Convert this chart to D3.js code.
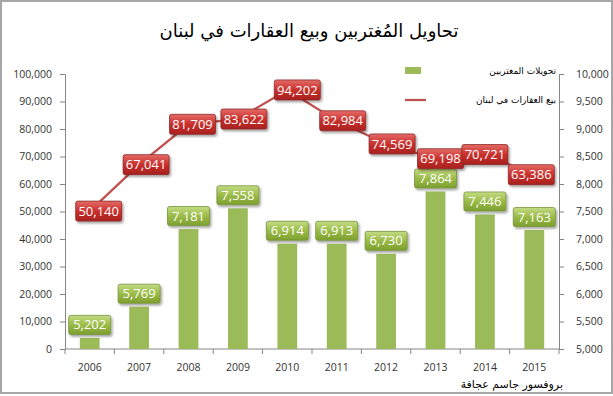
<!DOCTYPE html>
<html>
<head>
<meta charset="utf-8">
<script src="https://cdn.jsdelivr.net/npm/d3@7"></script>
<style>
  body { margin: 0; background: #fff; }
  svg { display: block; }
</style>
</head>
<body>
<div id="chart"></div>
<script>
// Chart data
const years = ["2006", "2007", "2008", "2009", "2010", "2011", "2012", "2013", "2014", "2015"];
const remittances = [5202, 5769, 7181, 7558, 6914, 6913, 6730, 7864, 7446, 7163];
const propertySales = [50140, 67041, 81709, 83622, 94202, 82984, 74569, 69198, 70721, 63386];
const leftTicks = [0, 10000, 20000, 30000, 40000, 50000, 60000, 70000, 80000, 90000, 100000];
const rightTicks = [5000, 5500, 6000, 6500, 7000, 7500, 8000, 8500, 9000, 9500, 10000];

const titleText = "تحاويل المُغتربين وبيع العقارات في لبنان";
const barName = "تحويلات المغتربين";
const lineName = "بيع العقارات في لبنان";
const creditText = "بروفسور جاسم عجافة";

// horizontal nudge of the red labels (px), as placed in the original
const redNudge = [9, 7, 4, 6, 10, 6, 6, 5, 0, -3];

const width = 613, height = 396;
const plot = { left: 65, right: 559, top: 74, bottom: 349 };
const fmt = d3.format(",");

const svg = d3.select('#chart')
    .append('svg')
    .attr('width', width)
    .attr('height', height);

// Gradients and shadow
const defs = svg.append('defs');
const redGrad = defs.append('linearGradient').attr('id', 'redGrad').attr('x1', 0).attr('y1', 0).attr('x2', 0).attr('y2', 1);
redGrad.append('stop').attr('offset', '0%').attr('stop-color', '#e46b68');
redGrad.append('stop').attr('offset', '50%').attr('stop-color', '#c9302c');
redGrad.append('stop').attr('offset', '100%').attr('stop-color', '#a8211e');
const greenGrad = defs.append('linearGradient').attr('id', 'greenGrad').attr('x1', 0).attr('y1', 0).attr('x2', 0).attr('y2', 1);
greenGrad.append('stop').attr('offset', '0%').attr('stop-color', '#c3dc84');
greenGrad.append('stop').attr('offset', '50%').attr('stop-color', '#9bbb48');
greenGrad.append('stop').attr('offset', '100%').attr('stop-color', '#7d9f2e');
defs.append('filter').attr('id', 'shadow').attr('x', '-20%').attr('y', '-20%').attr('width', '150%').attr('height', '160%')
    .append('feDropShadow').attr('dx', 1.5).attr('dy', 2).attr('stdDeviation', 1.2)
    .attr('flood-color', '#000').attr('flood-opacity', 0.35);

// Outer frame
svg.append('rect')
    .attr('x', 1).attr('y', 1)
    .attr('width', 611).attr('height', 392)
    .attr('fill', '#fff')
    .attr('stroke', '#a6a6a6')
    .attr('stroke-width', 2);

// Scales
const x = d3.scaleBand().domain(years).range([plot.left, plot.right]).paddingInner(0.6).paddingOuter(0.3);
const xPoint = d => x(d) + x.bandwidth() / 2;
const yLeft = d3.scaleLinear().domain([0, 100000]).range([plot.bottom, plot.top]);
const yRight = d3.scaleLinear().domain([5000, 10000]).range([plot.bottom, plot.top]);

// Title
svg.append('text')
    .attr('x', 309).attr('y', 37)
    .attr('text-anchor', 'middle')
    .attr('font-family', 'DejaVu Sans')
    .attr('font-size', 18)
    .attr('fill', '#000')
    .text(titleText);

// Axes
const axisColor = '#868686';
const leftAxis = svg.append('g')
    .attr('transform', `translate(${plot.left},0)`)
    .call(d3.axisLeft(yLeft).tickValues(leftTicks).tickFormat(fmt).tickSize(5).tickPadding(8));
const rightAxis = svg.append('g')
    .attr('transform', `translate(${plot.right},0)`)
    .call(d3.axisRight(yRight).tickValues(rightTicks).tickFormat(fmt).tickSize(5).tickPadding(12));
[leftAxis, rightAxis].forEach(g => {
    g.select('.domain').attr('stroke', axisColor);
    g.selectAll('.tick line').attr('stroke', axisColor);
    g.selectAll('.tick text')
        .attr('font-family', 'Open Sans')
        .attr('font-size', 10.5)
        .attr('fill', '#333');
});

// Category axis
svg.append('line')
    .attr('x1', plot.left).attr('x2', plot.right)
    .attr('y1', plot.bottom).attr('y2', plot.bottom)
    .attr('stroke', axisColor);
const boundaries = years.map(d => x(d) - x.step() * x.paddingInner() / 2).concat([plot.right]);
svg.append('g')
    .selectAll('line')
    .data(boundaries)
    .enter()
    .append('line')
    .attr('x1', d => d).attr('x2', d => d)
    .attr('y1', plot.bottom).attr('y2', plot.bottom + 5)
    .attr('stroke', axisColor);
svg.append('g')
    .selectAll('text')
    .data(years)
    .enter()
    .append('text')
    .attr('x', d => xPoint(d))
    .attr('y', 371)
    .attr('text-anchor', 'middle')
    .attr('font-family', 'Open Sans')
    .attr('font-size', 10.5)
    .attr('fill', '#333')
    .text(d => d);

// Bars (secondary axis)
svg.append('g')
    .selectAll('rect')
    .data(remittances)
    .enter()
    .append('rect')
    .attr('x', (d, i) => x(years[i]))
    .attr('y', d => yRight(d))
    .attr('width', x.bandwidth())
    .attr('height', d => plot.bottom - yRight(d))
    .attr('fill', '#9bbb59');

// Line (primary axis)
const line = d3.line()
    .x((d, i) => xPoint(years[i]))
    .y(d => yLeft(d));
svg.append('path')
    .datum(propertySales)
    .attr('d', line)
    .attr('fill', 'none')
    .attr('stroke', '#c0504d')
    .attr('stroke-width', 2.25);

// Data label helper
function labelBox(g, cx, cy, w, h, fill, stroke, txt) {
    g.append('rect')
        .attr('x', cx - w / 2).attr('y', cy - h / 2)
        .attr('width', w).attr('height', h)
        .attr('rx', 2)
        .attr('fill', fill)
        .attr('stroke', stroke)
        .attr('stroke-width', 0.8)
        .attr('filter', 'url(#shadow)');
    g.append('text')
        .attr('x', cx).attr('y', cy + 4.6)
        .attr('text-anchor', 'middle')
        .attr('font-family', 'Open Sans')
        .attr('font-size', 13)
        .attr('fill', '#fff')
        .text(txt);
}

// Green labels above bars
const greenLabels = svg.append('g');
remittances.forEach((d, i) => {
    labelBox(greenLabels, xPoint(years[i]), yRight(d) - 13, 42, 19, 'url(#greenGrad)', '#76923c', fmt(d));
});

// Red labels on line points
const redLabels = svg.append('g');
propertySales.forEach((d, i) => {
    labelBox(redLabels, xPoint(years[i]) + redNudge[i], yLeft(d), 46, 20, 'url(#redGrad)', '#8c2a28', fmt(d));
});

// Legend
const legend = svg.append('g');
legend.append('rect')
    .attr('x', 405).attr('y', 67)
    .attr('width', 16).attr('height', 7)
    .attr('fill', '#9bbb59');
legend.append('text')
    .attr('x', 556).attr('y', 74)
    .attr('text-anchor', 'end')
    .attr('font-family', 'DejaVu Sans')
    .attr('font-size', 9)
    .attr('fill', '#000')
    .text(barName);
legend.append('line')
    .attr('x1', 405).attr('x2', 426)
    .attr('y1', 100).attr('y2', 100)
    .attr('stroke', '#c0504d')
    .attr('stroke-width', 2.25);
legend.append('text')
    .attr('x', 556).attr('y', 103)
    .attr('text-anchor', 'end')
    .attr('font-family', 'DejaVu Sans')
    .attr('font-size', 9)
    .attr('fill', '#000')
    .text(lineName);

// Credit
svg.append('text')
    .attr('x', 563).attr('y', 388)
    .attr('text-anchor', 'end')
    .attr('font-family', 'DejaVu Sans')
    .attr('font-size', 11)
    .attr('fill', '#000')
    .text(creditText);
</script>
</body>
</html>
